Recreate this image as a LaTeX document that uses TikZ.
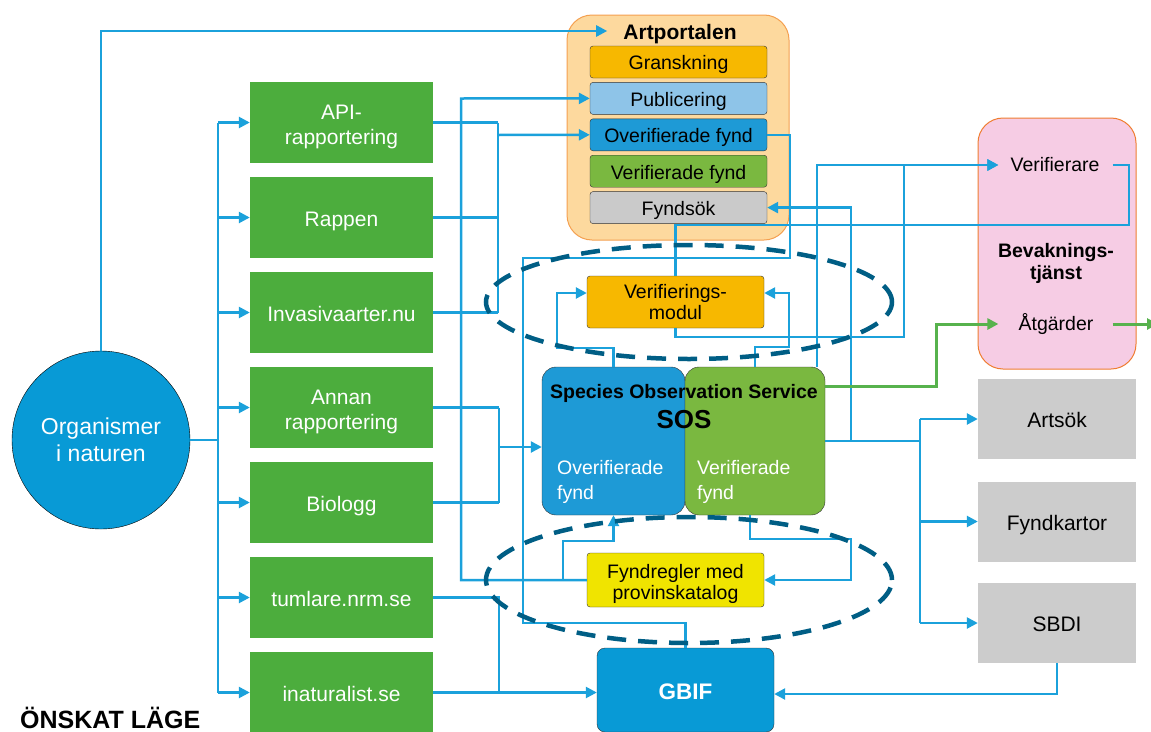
\documentclass[tikz,border=0pt]{standalone}
\usepackage{fontspec}
\setmainfont{Liberation Sans}
\usetikzlibrary{arrows.meta}

\definecolor{lineblue}{RGB}{27,161,219}
\definecolor{linegreen}{RGB}{87,178,77}
\definecolor{srcgreen}{RGB}{76,173,61}
\definecolor{orgblue}{RGB}{8,154,214}
\definecolor{apfill}{RGB}{253,217,158}
\definecolor{aporange}{RGB}{244,160,80}
\definecolor{amber}{RGB}{247,184,0}
\definecolor{pubblue}{RGB}{142,196,232}
\definecolor{ovblue}{RGB}{30,154,214}
\definecolor{vgreen}{RGB}{122,184,64}
\definecolor{fgray}{RGB}{202,202,202}
\definecolor{sinkgray}{RGB}{204,204,204}
\definecolor{rulesyellow}{RGB}{240,228,0}
\definecolor{ringblue}{RGB}{0,94,133}
\definecolor{bevpink}{RGB}{246,204,228}
\definecolor{bevorange}{RGB}{239,125,49}

\newcommand{\fsz}[2]{\fontsize{#1pt}{#2pt}\selectfont}
\newcommand{\twoln}[2]{\rule{0pt}{1.12em}#1\\#2\rule[-0.22em]{0pt}{0.22em}}

\begin{document}
\begin{tikzpicture}[x=1pt, y=-1pt, font=\fsz{21}{25.5}]
    \tikzset{
      flow/.style={draw=lineblue, line width=2.5pt, -{Triangle[length=11pt,width=11pt]}},
      link/.style={draw=lineblue, line width=2.5pt},
      gflow/.style={draw=linegreen, line width=3pt, -{Triangle[length=11pt,width=11pt]}},
      oneA/.style={text height=21.6pt, text depth=4.6pt},
      oneB/.style={text height=20.1pt, text depth=4.3pt},
      plain/.style={},
      srcbox/.style={fill=srcgreen, text=white, minimum width=183pt, minimum height=81pt, inner sep=0pt, align=center},
      subbox/.style={draw=black!80, rounded corners=3pt, minimum width=177pt, minimum height=32pt, inner sep=0pt, font=\fsz{19.5}{21}},
      sinkbox/.style={fill=sinkgray, minimum width=158pt, minimum height=80pt, inner sep=0pt, oneA},
      dashring/.style={draw=ringblue, line width=4.5pt, dash pattern=on 19pt off 12pt},
    }
    \useasboundingbox (0,0) rectangle (1151,731);

    % sources
    \node[circle, draw=black, fill=orgblue, text=white, minimum size=178pt, align=center, font=\fsz{23}{27}] (org) at (101,440) {Organismer\\i naturen};
    \foreach \n/\t/\o [count=\i from 0] in {api/{\twoln{API-}{rapportering}}/plain, rappen/Rappen/oneA, invasiva/Invasivaarter.nu/oneA, annan/{\twoln{Annan}{rapportering}}/plain, biologg/Biologg/oneA, tumlare/tumlare.nrm.se/oneA, inat/inaturalist.se/oneA}
      \node[srcbox, \o] (\n) at (341.5,122.5+95*\i) {\t};
    \node[font=\bfseries\fsz{25}{28}, anchor=base west, inner sep=0pt] (state) at (20,728) {ÖNSKAT LÄGE};

    % Artportalen
    \node[draw=aporange, fill=apfill, line width=1pt, rounded corners=25pt, minimum width=222pt, minimum height=225pt] (ap) at (678,127.5) {};
    \node[font=\bfseries\fsz{21}{25}, inner sep=0pt, oneA] (aptitle) at (680,31) {Artportalen};
    \foreach \n/\c/\t [count=\i from 0] in {gransk/amber/Granskning, publ/pubblue/Publicering, overif/ovblue/Overifierade fynd, verif/vgreen/Verifierade fynd, fyndsok/fgray/Fyndsök}
      \node[subbox, oneB, fill=\c] (\n) at (678.5,62+36.4*\i) {\t};

    % verification and rules
    \node[subbox, fill=amber, minimum height=52pt, align=center] (vmod) at (675.5,302) {Verifierings-\\modul};
    \node[subbox, fill=rulesyellow, minimum height=54pt, align=center] (fynd) at (675.5,580) {\twoln{Fyndregler med}{provinskatalog}};

    % SOS
    \node[draw=black!80, fill=ovblue, rounded corners=14pt, minimum width=143pt, minimum height=148pt] (sosU) at (613.5,441) {};
    \node[draw=black!80, fill=vgreen, rounded corners=14pt, minimum width=140pt, minimum height=148pt] (sosV) at (755,441) {};
    \node[font=\bfseries\fsz{19.5}{22}, inner sep=0pt, oneB] (sostitle) at (684,391) {Species Observation Service};
    \node[font=\bfseries\fsz{26}{30}, inner sep=0pt] (sosname) at (684,420) {SOS};
    \node[text=white, align=left, anchor=west, inner sep=0pt, font=\fsz{19.5}{25}] (sosUtxt) at (557,482) {Overifierade\\fynd};
    \node[text=white, align=left, anchor=west, inner sep=0pt, font=\fsz{19.5}{25}] (sosVtxt) at (697,482) {Verifierade\\fynd};

    \node[draw=black!80, fill=orgblue, rounded corners=8pt, minimum width=177pt, minimum height=84pt, text=white, text height=23.2pt, text depth=5pt, font=\bfseries\fsz{22.5}{26}] (gbif) at (685.5,690) {GBIF};

    % Bevakningstjanst
    \node[draw=bevorange, fill=bevpink, line width=1pt, rounded corners=25pt, minimum width=158pt, minimum height=251pt] (bev) at (1057,243.5) {};
    \node[font=\bfseries\fsz{19.5}{22}, align=center] (bevtitle) at (1056,263) {Bevaknings-\\tjänst};
    \node[font=\fsz{19.5}{22}, inner sep=0pt] (verifierare) at (1055,165) {Verifierare};
    \node[font=\fsz{19.5}{22}, inner sep=0pt] (atgarder) at (1056,324) {Åtgärder};

    % outputs
    \foreach \n/\t/\y in {artsok/Artsök/419, fyndkartor/Fyndkartor/521.5, sbdi/SBDI/623}
      \node[sinkbox] (\n) at (1057,\y) {\t};

    % organisms to sources
    \draw[flow] (org.north) |- ([xshift=-16pt]aptitle.west);
    \coordinate (trunk) at (218,440);
    \draw[link] (org.east) -- (trunk);
    \draw[link] (trunk |- api) -- (trunk |- inat);
    \foreach \n in {api,rappen,invasiva,annan,biologg,tumlare,inat}
      \draw[flow] (trunk |- \n) -- (\n.west);

    % sources to Artportalen, SOS, GBIF
    \coordinate (busA) at (498,135);
    \foreach \n in {api,rappen,invasiva}
      \draw[link] (\n.east) -- (busA |- \n);
    \draw[link] (busA |- api) -- (busA |- invasiva);
    \draw[flow] (busA) -- (overif.west);
    \coordinate (busB) at (499,447);
    \foreach \n in {annan,biologg}
      \draw[link] (\n.east) -- (busB |- \n);
    \draw[link] (busB |- annan) -- (busB |- biologg);
    \draw[flow] (busB) -- (busB -| sosU.west);
    \coordinate (busC) at (499,692.5);
    \draw[link] (tumlare.east) -| (busC);
    \draw[flow] (inat.east) -- (inat.east -| gbif.west);

    % rules
    \draw[flow] (fynd.west) -| (461,98.5) -- (publ.west);
    \draw[flow] (563,580) |- (613.5,541) -- (sosU.south);
    \draw[flow] ([xshift=-5pt]sosV.south) |- (851,539) |- (fynd.east);

    % Artportalen to GBIF
    \draw[link] (overif.east) -| (790,258) -| (523,623) -| (gbif.north);

    % verification
    \draw[flow] (sosU.north) |- (557,348) |- ([yshift=9pt]vmod.west);
    \draw[flow] (sosV.north) |- (789,347) |- ([yshift=9pt]vmod.east);
    \draw[link] ([xshift=13pt]verifierare.east) -| (1129,225) -| (vmod.north);
    \draw[flow] (vmod.south) |- (904,337) |- ([xshift=-12pt]verifierare.west);
    \draw[flow] ([xshift=62pt]sosV.north) |- ([xshift=-12pt]verifierare.west);

    % SOS outputs
    \coordinate (busD) at (920,441);
    \draw[link] (sosV.east) -- (busD);
    \draw[flow] (851,441) |- (fyndsok.east);
    \draw[link] (busD |- artsok) -- (busD |- sbdi);
    \foreach \n in {artsok,fyndkartor,sbdi}
      \draw[flow] (busD |- \n) -- (\n.west);
    \draw[flow] (sbdi.south) |- ([yshift=-4pt]gbif.east);

    % actions
    \coordinate (exit) at (1158,324);
    \draw[gflow] ([yshift=55pt]sosV.east) -| (936,324) -- ([xshift=-20pt]atgarder.west);
    \draw[gflow] ([xshift=19pt]atgarder.east) -- (exit);

    % service groups
    \draw[dashring] (689,302) ellipse [x radius=203pt, y radius=57pt];
    \draw[dashring] (689,580) ellipse [x radius=203pt, y radius=63pt];
\end{tikzpicture}
\end{document}
